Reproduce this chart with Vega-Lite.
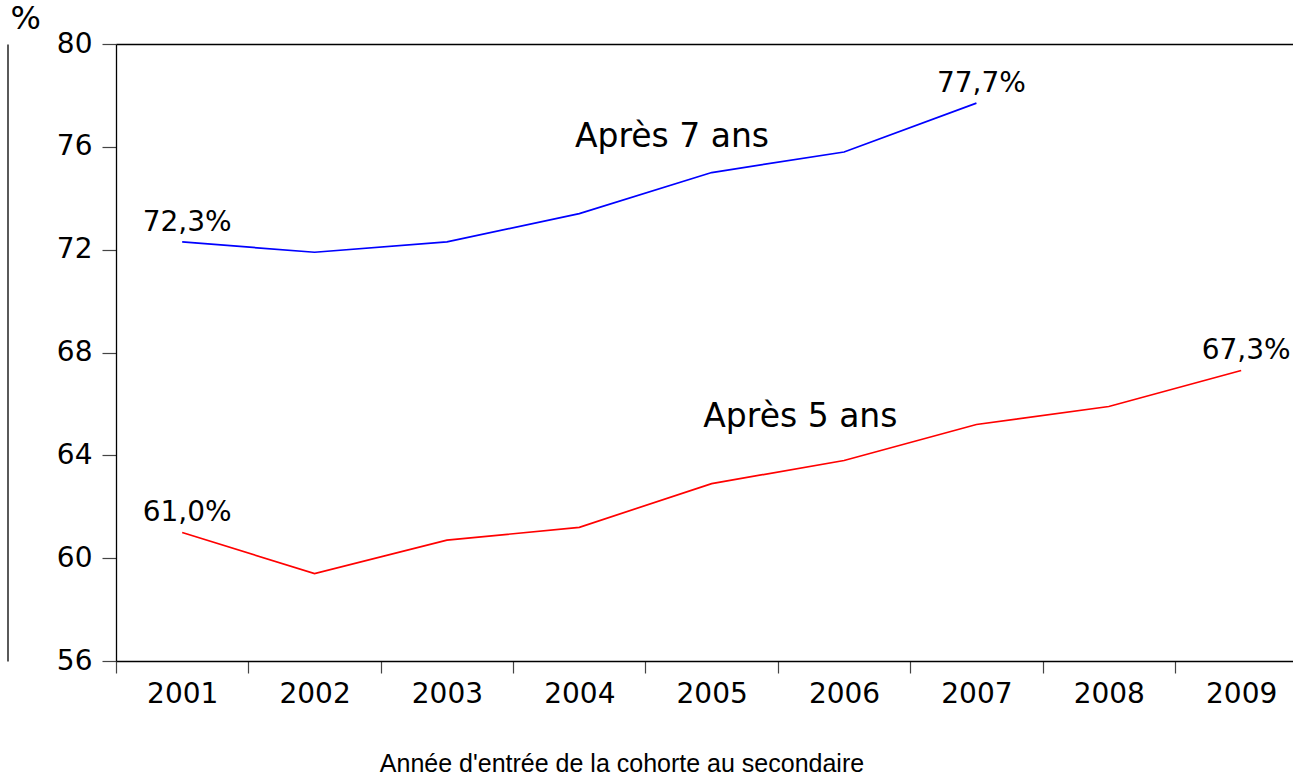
{
  "$schema": "https://vega.github.io/schema/vega-lite/v6.json",
  "width": 1177,
  "height": 617,
  "autosize": {"type": "none"},
  "padding": {"left": 116, "top": 44, "right": 0, "bottom": 116},
  "background": "white",
  "config": {
    "view": {"stroke": null},
    "axis": {"grid": false, "labelFlush": false, "labelOverlap": false}
  },
  "datasets": {
    "series": [
      {"year": 2001, "value": 72.3, "series": "Après 7 ans", "label": "72,3%"},
      {"year": 2002, "value": 71.9, "series": "Après 7 ans", "label": null},
      {"year": 2003, "value": 72.3, "series": "Après 7 ans", "label": null},
      {"year": 2004, "value": 73.4, "series": "Après 7 ans", "label": null},
      {"year": 2005, "value": 75.0, "series": "Après 7 ans", "label": null},
      {"year": 2006, "value": 75.8, "series": "Après 7 ans", "label": null},
      {"year": 2007, "value": 77.7, "series": "Après 7 ans", "label": "77,7%"},
      {"year": 2001, "value": 61.0, "series": "Après 5 ans", "label": "61,0%"},
      {"year": 2002, "value": 59.4, "series": "Après 5 ans", "label": null},
      {"year": 2003, "value": 60.7, "series": "Après 5 ans", "label": null},
      {"year": 2004, "value": 61.2, "series": "Après 5 ans", "label": null},
      {"year": 2005, "value": 62.9, "series": "Après 5 ans", "label": null},
      {"year": 2006, "value": 63.8, "series": "Après 5 ans", "label": null},
      {"year": 2007, "value": 65.2, "series": "Après 5 ans", "label": null},
      {"year": 2008, "value": 65.9, "series": "Après 5 ans", "label": null},
      {"year": 2009, "value": 67.3, "series": "Après 5 ans", "label": "67,3%"}
    ],
    "annotations": [
      {"x": 2004.7, "y": 76.0, "text": "Après 7 ans"},
      {"x": 2005.67, "y": 65.1, "text": "Après 5 ans"}
    ]
  },
  "resolve": {"axis": {"x": "independent", "y": "independent"}},
  "layer": [
    {
      "data": {"name": "series"},
      "mark": {"type": "line", "strokeWidth": 1.7},
      "encoding": {
        "x": {
          "field": "year",
          "type": "quantitative",
          "scale": {"domain": [2000.5, 2009.3915], "nice": false, "zero": false},
          "axis": {
            "orient": "bottom",
            "values": [2000.5, 2001, 2001.5, 2002, 2002.5, 2003, 2003.5, 2004, 2004.5, 2005, 2005.5, 2006, 2006.5, 2007, 2007.5, 2008, 2008.5, 2009],
            "format": ".0f",
            "labelOpacity": {"condition": {"test": "datum.value % 1 !== 0", "value": 0}, "value": 1},
            "tickOpacity": {"condition": {"test": "datum.value % 1 !== 0", "value": 1}, "value": 0},
            "tickSize": 12,
            "tickColor": "#444444",
            "tickWidth": 1.2,
            "domainColor": "#000000",
            "domainWidth": 1.3,
            "labelFont": "DejaVu Sans",
            "labelFontSize": 28,
            "labelColor": "#000000",
            "labelPadding": 7,
            "labelAngle": 0,
            "title": "Année d'entrée de la cohorte au secondaire",
            "titleFont": "Liberation Sans",
            "titleFontSize": 25,
            "titleFontWeight": "normal",
            "titleColor": "#000000",
            "titleX": 505.5,
            "titleY": 110,
            "titleBaseline": "alphabetic",
            "titleAlign": "center"
          }
        },
        "y": {
          "field": "value",
          "type": "quantitative",
          "scale": {"domain": [56, 80], "nice": false, "zero": false},
          "axis": {
            "orient": "left",
            "values": [56, 60, 64, 68, 72, 76, 80],
            "tickSize": 14,
            "tickColor": "#444444",
            "tickWidth": 1.2,
            "domainColor": "#000000",
            "domainWidth": 1.3,
            "labelFont": "DejaVu Sans",
            "labelFontSize": 28,
            "labelColor": "#000000",
            "labelPadding": 10,
            "title": "%",
            "titleAngle": 0,
            "titleFont": "DejaVu Sans",
            "titleFontSize": 32,
            "titleFontWeight": "normal",
            "titleColor": "#000000",
            "titleX": -106,
            "titleY": -16,
            "titleAlign": "left",
            "titleBaseline": "alphabetic"
          }
        },
        "color": {
          "field": "series",
          "type": "nominal",
          "scale": {"domain": ["Après 7 ans", "Après 5 ans"], "range": ["#0000FF", "#FF0000"]},
          "legend": null
        }
      }
    },
    {
      "data": {"name": "series"},
      "transform": [{"filter": "datum.label != null"}],
      "mark": {"type": "text", "font": "DejaVu Sans", "fontSize": 28, "align": "center", "baseline": "alphabetic", "dx": 5, "dy": -11, "color": "#000000"},
      "encoding": {
        "x": {"field": "year", "type": "quantitative", "axis": null},
        "y": {"field": "value", "type": "quantitative", "axis": null},
        "text": {"field": "label"}
      }
    },
    {
      "data": {"name": "annotations"},
      "mark": {"type": "text", "font": "DejaVu Sans", "fontSize": 33, "align": "center", "baseline": "alphabetic", "color": "#000000"},
      "encoding": {
        "x": {
          "field": "x",
          "type": "quantitative",
          "axis": {"orient": "top", "domain": true, "domainColor": "#000000", "domainWidth": 1.5, "ticks": false, "labels": false, "title": null, "grid": false}
        },
        "y": {
          "field": "y",
          "type": "quantitative",
          "axis": {"orient": "left", "offset": 108.5, "domain": true, "domainColor": "#000000", "domainWidth": 1.3, "ticks": false, "labels": false, "title": null, "grid": false}
        },
        "text": {"field": "text"}
      }
    }
  ]
}
